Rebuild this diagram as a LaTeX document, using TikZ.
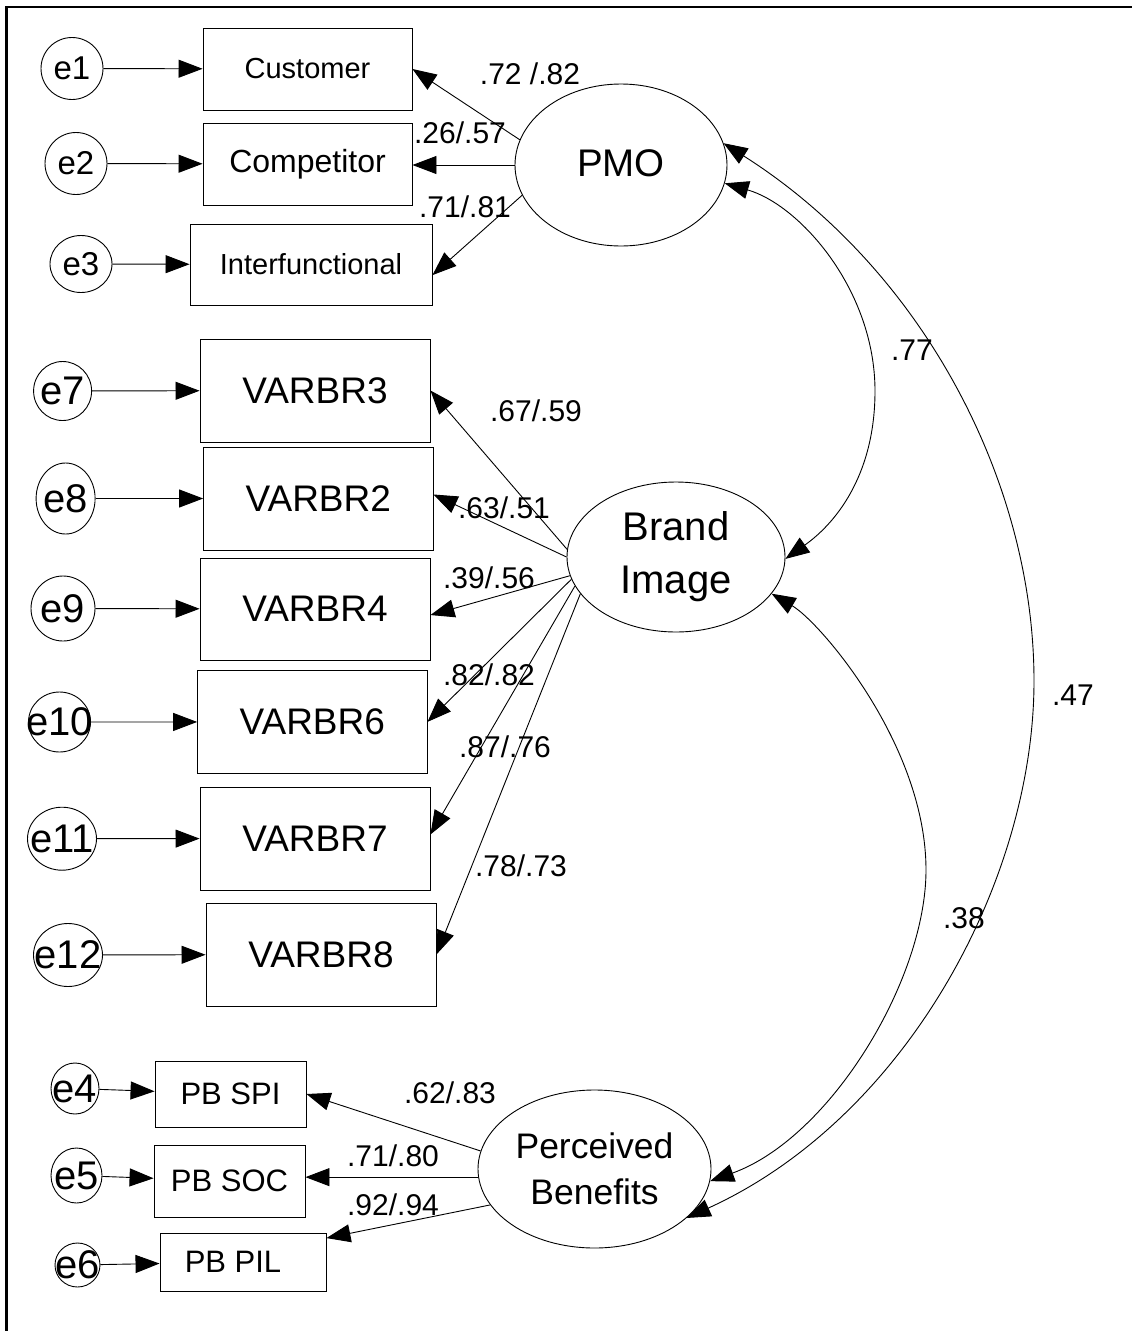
\documentclass[tikz,border=0pt]{standalone}
\usepackage{fontspec}
\setmainfont{Liberation Sans}
\usetikzlibrary{shapes.geometric,arrows.meta}
\newcommand{\myfs}[1]{\fontsize{#1}{#1}\selectfont}
\begin{document}
\begin{tikzpicture}[x=1pt,y=-1pt,line width=0.9pt,
  obs/.style={draw,rectangle,inner sep=0pt},
  err/.style={draw,ellipse,inner sep=0pt},
  etxt/.style={inner sep=0pt},
  lat/.style={draw,ellipse,inner sep=0pt,align=center},
  arr/.style={-{Triangle[length=24pt,width=18pt]}},
  cov/.style={{Triangle[length=24pt,width=18pt]}-{Triangle[length=24pt,width=18pt]}},
  lbl/.style={inner sep=0pt,font=\myfs{30}}]
\useasboundingbox (0,0) rectangle (1132,1331);
\draw[line width=2.2pt] (6.5,1331) -- (6.5,7) -- (1132,7);

% error terms
\node[err,minimum width=62,minimum height=62] (e1) at (72,68.5) {};
\node[etxt,font=\myfs{33}] (e1t) at (e1) {e1};
\node[err,minimum width=62,minimum height=62] (e2) at (76,163.5) {};
\node[etxt,font=\myfs{33}] (e2t) at (e2) {e2};
\node[err,minimum width=62,minimum height=57] (e3) at (81,264) {};
\node[etxt,font=\myfs{33}] (e3t) at (e3) {e3};
\node[err,minimum width=58,minimum height=59] (e7) at (62.6,391) {};
\node[etxt,font=\myfs{40}] (e7t) at (e7) {e7};
\node[err,minimum width=59,minimum height=71] (e8) at (65.6,498.5) {};
\node[etxt,font=\myfs{40}] (e8t) at (e8) {e8};
\node[err,minimum width=64,minimum height=65] (e9) at (63,608.5) {};
\node[etxt,font=\myfs{40}] (e9t) at (e9) {e9};
\node[err,minimum width=62,minimum height=60] (e10) at (59.5,722) {};
\node[etxt,font=\myfs{40}] (e10t) at (e10) {e10};
\node[err,minimum width=69,minimum height=63] (e11) at (62,838.7) {};
\node[etxt,font=\myfs{40}] (e11t) at (e11) {e11};
\node[err,minimum width=69,minimum height=63] (e12) at (68,955) {};
\node[etxt,font=\myfs{40}] (e12t) at (e12) {e12};
\node[err,minimum width=48,minimum height=51] (e4) at (75,1088.5) {};
\node[etxt,font=\myfs{40}] (e4t) at (e4) {e4};
\node[err,minimum width=51,minimum height=55] (e5) at (76.5,1175.5) {};
\node[etxt,font=\myfs{40}] (e5t) at (e5) {e5};
\node[err,minimum width=45,minimum height=44] (e6) at (77.5,1265) {};
\node[etxt,font=\myfs{40}] (e6t) at (e6) {e6};

% observed variables
\node[obs,minimum width=209,minimum height=82,font=\myfs{29}] (cust) at (307.5,69) {Customer};
\node[obs,minimum width=209,minimum height=82,font=\myfs{32}] (comp) at (307.5,164) {Competitor};
\node[obs,minimum width=242,minimum height=81,font=\myfs{29}] (inter) at (311,264.5) {Interfunctional};
\node[obs,minimum width=230,minimum height=103,font=\myfs{37}] (v3) at (315,390.5) {VARBR3};
\node[obs,minimum width=229.4,minimum height=103,font=\myfs{37}] (v2) at (318.3,498.5) {VARBR2};
\node[obs,minimum width=230,minimum height=102,font=\myfs{37}] (v4) at (315,609) {VARBR4};
\node[obs,minimum width=229.4,minimum height=102.3,font=\myfs{37}] (v6) at (312.3,721.9) {VARBR6};
\node[obs,minimum width=230,minimum height=103,font=\myfs{37}] (v7) at (315,838.5) {VARBR7};
\node[obs,minimum width=230,minimum height=103,font=\myfs{37}] (v8) at (321,954.5) {VARBR8};
\node[obs,minimum width=151,minimum height=66,font=\myfs{31}] (spi) at (230.5,1094) {PB SPI};
\node[obs,minimum width=151,minimum height=72,font=\myfs{31}] (soc) at (229.5,1181) {PB SOC};
\node[obs,minimum width=166,minimum height=58,font=\myfs{31}] (pil) at (243,1262) {PB PIL\hspace*{20pt}};

% latent variables
\node[lat,minimum width=212,minimum height=162,font=\myfs{38.5}] (pmo) at (621,165) {\raisebox{4.5pt}{PMO}};
\node[lat,minimum width=218,minimum height=150,font=\fontsize{40}{53}\selectfont] (bi) at (676,557) {Brand\\Image};
\node[lat,minimum width=233,minimum height=158,font=\fontsize{35.5}{46.3}\selectfont] (pb) at (594.5,1169) {Perceived\\Benefits};

% error arrows
\draw[arr] (e1) -- (cust);
\draw[arr] (e2) -- (comp);
\draw[arr] (e3) -- (inter);
\draw[arr] (e7) -- (v3);
\draw[arr] (e8) -- (v2);
\draw[arr] (e9) -- (v4);
\draw[arr] (e10) -- (v6);
\draw[arr] (e11) -- (v7);
\draw[arr] (e12) -- (v8);
\draw[arr] (e4) -- (spi);
\draw[arr] (e5) -- (soc);
\draw[arr] (e6) -- (pil);

% loadings
\draw[arr] (pmo.166) -- (cust.east);
\draw[arr] (pmo.west) -- (pmo.west -| comp.east);
\draw[arr] (pmo.197.6) -- (inter.-5.4);
\draw[arr] (bi.176) -- (v3.east);
\draw[arr] (bi.180.5) -- (v2.2.7);
\draw[arr] (bi.190) -- (v4.-3);
\draw[arr] (bi.192.5) -- (v6.east);
\draw[arr] (bi.196.5) -- (v7.2.7);
\draw[arr] (bi.201) -- (v8.east);
\draw[arr] (pb.171) -- (spi.east);
\draw[arr] (pb.184.5) -- (pb.184.5 -| soc.east);
\draw[arr] (pb.199.6) -- (pil.16);

% covariances
\coordinate (m77) at (875,391);
\coordinate (m38) at (926,870);
\coordinate (m47) at (1034,681);
\draw[cov] (pmo.-10.5) .. controls (800,205) and (875,290) .. (m77) .. controls (875,470) and (840,520) .. (bi.-1.6);
\draw[cov] (bi.-21.6) .. controls (820,622) and (926,745) .. (m38) .. controls (926,980) and (830,1138) .. (pb.-6.9);
\draw[cov] (pmo.12) .. controls (922,269) and (1034,481) .. (m47) .. controls (1034,880) and (906,1118) .. (pb.-28.2);

% labels
\node[lbl] (l1) at (530,74) {.72 /.82};
\node[lbl] (l2) at (460,133) {.26/.57};
\node[lbl] (l3) at (465,207) {.71/.81};
\node[lbl] (l4) at (536,411) {.67/.59};
\node[lbl] (l5) at (504,508) {.63/.51};
\node[lbl] (l6) at (489,578) {.39/.56};
\node[lbl] (l7) at (489,675) {.82/.82};
\node[lbl] (l8) at (505,747) {.87/.76};
\node[lbl] (l9) at (521,866) {.78/.73};
\node[lbl] (l10) at (450,1093) {.62/.83};
\node[lbl] (l11) at (393,1156) {.71/.80};
\node[lbl] (l12) at (393,1205) {.92/.94};
\node[lbl] (l13) at (912,350) {.77};
\node[lbl] (l14) at (1073,695) {.47};
\node[lbl] (l15) at (964,918) {.38};
\end{tikzpicture}
\end{document}
